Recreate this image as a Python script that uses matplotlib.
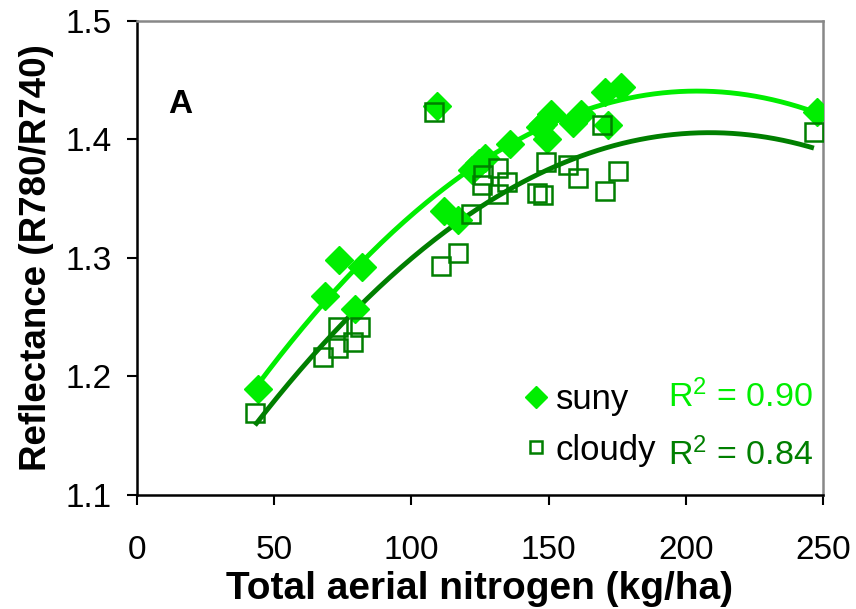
import numpy as np
import matplotlib
matplotlib.use("Agg")
import matplotlib.pyplot as plt
from matplotlib.lines import Line2D

plt.rcParams['font.family'] = ['Liberation Sans', 'DejaVu Sans']
plt.rcParams['mathtext.fontset'] = 'custom'
plt.rcParams['mathtext.rm'] = 'Liberation Sans'
plt.rcParams['mathtext.it'] = 'Liberation Sans'

# Data
suny_x = [44, 68.5, 73.5, 79.5, 82, 109.5, 112, 117, 122, 124.5, 127, 136,
          147, 148, 149.5, 151, 159, 162, 170.5, 171.5, 176.5, 248]
suny_y = [1.189, 1.268, 1.298, 1.257, 1.292, 1.428, 1.339, 1.332, 1.374, 1.380, 1.384, 1.396,
          1.410, 1.413, 1.400, 1.421, 1.414, 1.421, 1.440, 1.412, 1.444, 1.423]

cloudy_x = [43, 67.8, 73.3, 73.3, 78.7, 81.3, 108.2, 110.8, 117, 121.7, 125.7, 126.1,
            131.6, 131.6, 134.8, 145.8, 148, 149.2, 157.2, 160.7, 169.5, 170.5, 175.3, 246.7]
cloudy_y = [1.169, 1.216, 1.224, 1.242, 1.229, 1.242, 1.423, 1.293, 1.304, 1.337, 1.361, 1.370,
            1.376, 1.354, 1.364, 1.355, 1.353, 1.381, 1.378, 1.367, 1.412, 1.356, 1.373, 1.406]

suny_r2 = "0.90"
cloudy_r2 = "0.84"

light = '#00EE00'
dark = '#007F00'

fig = plt.figure(figsize=(8.56, 6.09), dpi=100)
ax = fig.add_axes([0.16, 0.1872, 0.8014, 0.7791])

# quadratic trendlines (as in the spreadsheet)
for xs, ys, col in [(suny_x, suny_y, light), (cloudy_x, cloudy_y, dark)]:
    c = np.polyfit(xs, ys, 2)
    xx = np.linspace(min(xs), max(xs), 200)
    ax.plot(xx, np.polyval(c, xx), color=col, lw=3.5, zorder=2, solid_capstyle='butt')

ax.plot(suny_x, suny_y, 'D', color=light, ms=14, mec=light, zorder=3)
ax.plot(cloudy_x, cloudy_y, 's', mfc='none', mec=dark, mew=1.8, ms=12.5, zorder=4)

ax.set_xlim(0, 250)
ax.set_ylim(1.1, 1.5)
ax.set_xticks([0, 50, 100, 150, 200, 250])
ax.set_yticks([1.1, 1.2, 1.3, 1.4, 1.5])
ax.set_yticklabels(['1.1', '1.2', '1.3', '1.4', '1.5'])
ax.tick_params(direction='out', length=7.5, width=1.5, labelsize=24)
ax.tick_params(axis='y', pad=11)
ax.tick_params(axis='x', pad=21)
ax.spines['left'].set_linewidth(1.8)
ax.spines['bottom'].set_linewidth(1.8)
ax.spines['top'].set_color('#888888')
ax.spines['right'].set_color('#888888')
ax.spines['top'].set_linewidth(1.8)
ax.spines['right'].set_linewidth(1.8)

ax.set_xlabel('Total aerial nitrogen (kg/ha)', fontsize=28, fontweight='bold', labelpad=4)
ax.set_ylabel('Reflectance (R780/R740)', fontsize=26.5, fontweight='bold', labelpad=8)

ax.text(0.063, 0.822, 'A', transform=ax.transAxes, fontsize=24, fontweight='bold',
        ha='center', va='center')

handles = [Line2D([], [], ls='none', marker='D', color=light, ms=11),
           Line2D([], [], ls='none', marker='s', mfc='none', mec=dark, mew=1.8, ms=9)]
leg = ax.legend(handles, ['suny', 'cloudy'], loc='lower left', bbox_to_anchor=(0.557, 0.06),
                frameon=False, fontsize=25, handletextpad=0.05, handlelength=1.0,
                labelspacing=0.5, borderaxespad=0, borderpad=0)

ax.text(0.774, 0.207, r'R$^{2}$ = ' + suny_r2, transform=ax.transAxes, fontsize=24.5,
        color=light, ha='left', va='center')
ax.text(0.774, 0.085, r'R$^{2}$ = ' + cloudy_r2, transform=ax.transAxes, fontsize=24.5,
        color=dark, ha='left', va='center')

fig.savefig('out.png', dpi=100)
